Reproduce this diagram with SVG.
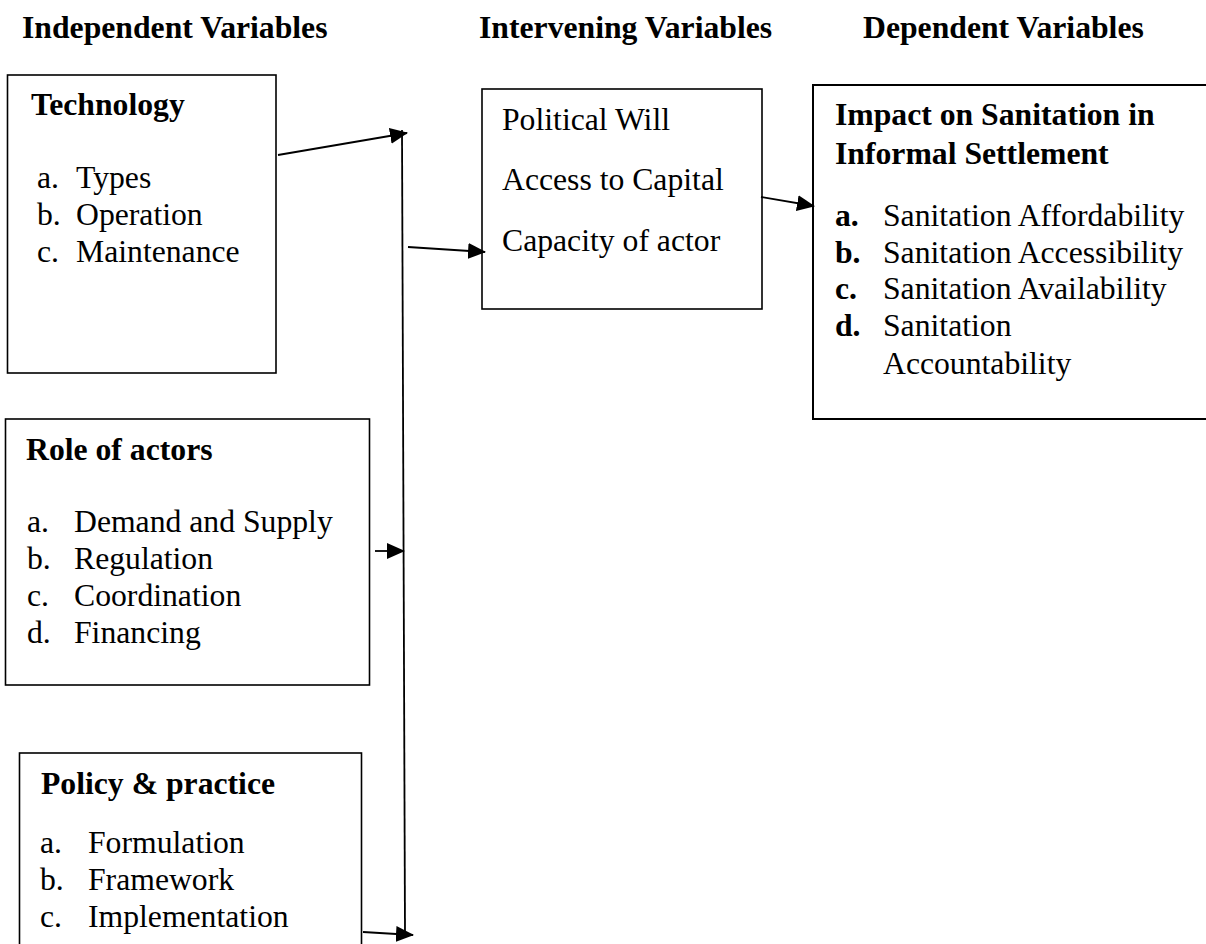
<svg xmlns="http://www.w3.org/2000/svg" width="1206" height="944" viewBox="0 0 1206 944">
<style>
  .box { fill: #fff; stroke: #000; stroke-width: 1.6; }
  .t { font-family: "Liberation Serif", "Times New Roman", serif; font-size: 31.7px; fill: #000; }
  .b { font-weight: bold; }
  .c { stroke: #000; stroke-width: 1.8; fill: none; }
</style>
<defs>
  <marker id="ah" viewBox="0 0 18 16" markerWidth="18" markerHeight="16" refX="17" refY="8" orient="auto" markerUnits="userSpaceOnUse">
    <path d="M0,0 L18,8 L0,16 z" fill="#000"/>
  </marker>
</defs>
<rect width="1206" height="944" fill="#fff"/>

<g id="headers">
  <text class="t b" x="22" y="38">Independent Variables</text>
  <text class="t b" x="479" y="38">Intervening Variables</text>
  <text class="t b" x="863" y="38">Dependent Variables</text>
</g>

<g id="technology">
  <rect class="box" x="7.5" y="75" width="268.5" height="298"/>
  <text class="t b" x="31" y="115">Technology</text>
  <text class="t" x="37" y="188">a.</text><text class="t" x="76" y="188">Types</text>
  <text class="t" x="37" y="225">b.</text><text class="t" x="76" y="225">Operation</text>
  <text class="t" x="37" y="262">c.</text><text class="t" x="76" y="262">Maintenance</text>
</g>

<g id="role">
  <rect class="box" x="5.5" y="419" width="364" height="266"/>
  <text class="t b" x="26" y="460">Role of actors</text>
  <text class="t" x="27" y="532">a.</text><text class="t" x="74" y="532">Demand and Supply</text>
  <text class="t" x="27" y="569">b.</text><text class="t" x="74" y="569">Regulation</text>
  <text class="t" x="27" y="606">c.</text><text class="t" x="74" y="606">Coordination</text>
  <text class="t" x="27" y="643">d.</text><text class="t" x="74" y="643">Financing</text>
</g>

<g id="policy">
  <rect class="box" x="19.5" y="753" width="342" height="250"/>
  <text class="t b" x="41" y="794">Policy &amp; practice</text>
  <text class="t" x="40" y="853">a.</text><text class="t" x="88" y="853">Formulation</text>
  <text class="t" x="40" y="890">b.</text><text class="t" x="88" y="890">Framework</text>
  <text class="t" x="40" y="927">c.</text><text class="t" x="88" y="927">Implementation</text>
</g>

<g id="intervening">
  <rect class="box" x="482" y="89" width="280" height="220"/>
  <text class="t" x="502" y="130">Political Will</text>
  <text class="t" x="502" y="190">Access to Capital</text>
  <text class="t" x="502" y="251">Capacity of actor</text>
</g>

<g id="impact">
  <rect class="box" x="813" y="85" width="420" height="334" style="stroke-width:2"/>
  <text class="t b" x="835" y="125">Impact on Sanitation in</text>
  <text class="t b" x="835" y="164">Informal Settlement</text>
  <text class="t b" x="835" y="226">a.</text><text class="t" x="883" y="226">Sanitation Affordability</text>
  <text class="t b" x="835" y="263">b.</text><text class="t" x="883" y="263">Sanitation Accessibility</text>
  <text class="t b" x="835" y="299">c.</text><text class="t" x="883" y="299">Sanitation Availability</text>
  <text class="t b" x="835" y="336">d.</text><text class="t" x="883" y="336">Sanitation</text>
  <text class="t" x="883" y="374">Accountability</text>
</g>

<g id="connectors">
  <line class="c" x1="402" y1="130" x2="405" y2="933"/>
  <line class="c" x1="278" y1="155" x2="407" y2="133" marker-end="url(#ah)"/>
  <line class="c" x1="408" y1="247" x2="485" y2="252" marker-end="url(#ah)"/>
  <line class="c" x1="375" y1="551" x2="404" y2="551" marker-end="url(#ah)"/>
  <line class="c" x1="363" y1="932" x2="413" y2="935" marker-end="url(#ah)"/>
  <line class="c" x1="761" y1="197" x2="814" y2="206" marker-end="url(#ah)"/>
</g>
</svg>
